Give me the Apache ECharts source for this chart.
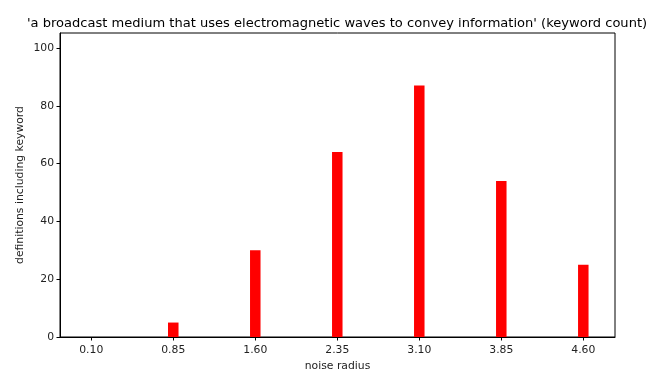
<!DOCTYPE html>
<html>
<head>
<meta charset="utf-8">
<script src="https://cdn.jsdelivr.net/npm/echarts@6/dist/echarts.min.js"></script>
<style>html,body{margin:0;padding:0;background:#fff}#c{width:659px;height:379px}</style>
</head>
<body>
<div id="c"></div>
<script>
const titleText = "'a broadcast medium that uses electromagnetic waves to convey information' (keyword count)";
const noiseRadius = [0.10, 0.85, 1.60, 2.35, 3.10, 3.85, 4.60];
const keywordCounts = [0, 5, 30, 64, 87, 54, 25];
const yTicks = [0, 20, 40, 60, 80, 100];

const chart = echarts.init(document.getElementById('c'), null, {renderer: 'canvas'});
const font = 'DejaVu Sans';
chart.setOption({
  animation: false,
  backgroundColor: '#fff',
  title: {
    text: titleText,
    left: 27, top: 17, padding: 0,
    textStyle: {fontFamily: font, fontSize: 13.05, fontWeight: 'normal', color: '#000'}
  },
  grid: {left: 60, right: 44, top: 33, bottom: 42, show: true, borderColor: '#000', borderWidth: 1, backgroundColor: 'transparent'},
  xAxis: {
    type: 'value', min: -0.186, max: 4.89,
    name: 'noise radius', nameLocation: 'middle', nameGap: 24,
    nameTextStyle: {fontFamily: font, fontSize: 10.8, color: '#222'},
    axisLine: {show: true, onZero: false, lineStyle: {color: '#000', width: 1}},
    axisTick: {show: true, inside: false, length: 3.5, customValues: noiseRadius, lineStyle: {color: '#000'}},
    axisLabel: {customValues: noiseRadius, formatter: v => v.toFixed(2), fontFamily: font, fontSize: 10.8, color: '#222', margin: 8},
    splitLine: {show: false}
  },
  yAxis: {
    type: 'value', min: 0, max: 105.2,
    name: 'definitions including keyword', nameLocation: 'middle', nameGap: 34, nameMoveOverlap: false,
    nameTextStyle: {fontFamily: font, fontSize: 10.8, color: '#222'},
    axisLine: {show: true, onZero: false, lineStyle: {color: '#000', width: 1}},
    axisTick: {show: true, inside: false, length: 3.5, customValues: yTicks, lineStyle: {color: '#000'}},
    axisLabel: {customValues: yTicks, fontFamily: font, fontSize: 10.8, color: '#222', margin: 6},
    splitLine: {show: false}
  },
  series: [{
    type: 'bar',
    data: noiseRadius.map((x, i) => [x, keywordCounts[i]]),
    barWidth: 10.5,
    itemStyle: {color: '#ff0000'}
  }]
});
</script>
</body>
</html>
